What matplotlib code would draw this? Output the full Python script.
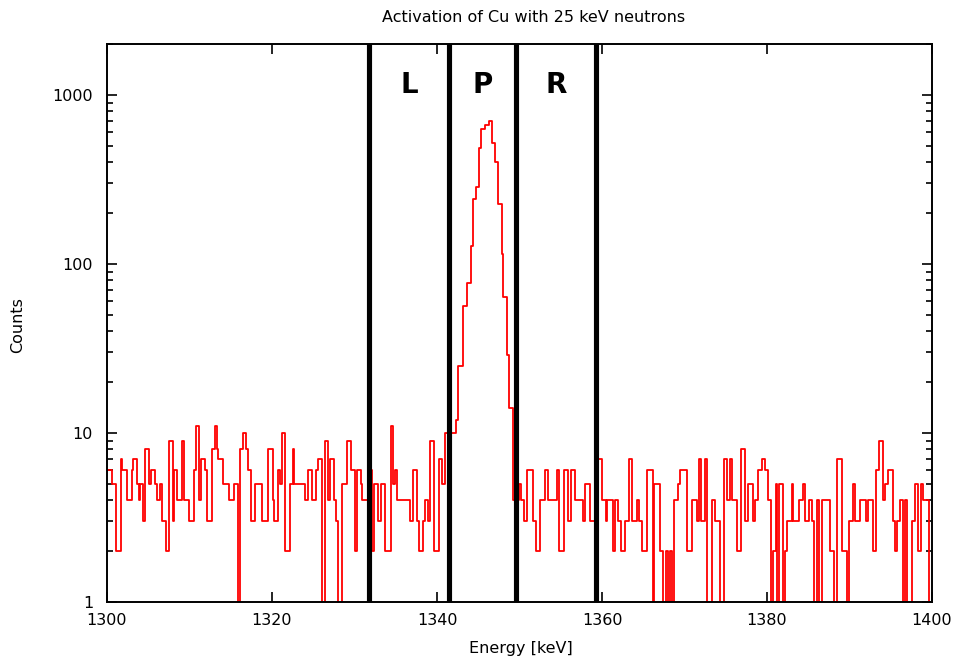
import numpy as np
import matplotlib
matplotlib.use('Agg')
import matplotlib.pyplot as plt
from matplotlib.ticker import LogLocator, NullFormatter, FixedLocator

# ----------------------------- donnees lues sur le spectre -----------------------------
# debut de chaque pas (keV) et nombre de coups correspondant
bin_lo_kev = [
    1300.0, 1300.57, 1301.05, 1301.66, 1301.86, 1302.38, 1302.99, 1303.19, 1303.68, 1303.88,
    1304.04, 1304.40, 1304.61, 1305.13, 1305.29, 1305.82, 1306.02, 1306.42, 1306.63, 1307.15,
    1307.52, 1307.96, 1308.12, 1308.53, 1309.05, 1309.33, 1309.98, 1310.59, 1310.75, 1311.19,
    1311.35, 1311.88, 1312.08, 1312.69, 1313.13, 1313.29, 1313.49, 1314.10, 1314.83, 1315.39,
    1315.84,
    1316.12, 1316.44, 1316.85, 1317.13, 1317.41, 1317.94, 1318.83, 1319.56, 1320.08, 1320.24,
    1320.77, 1320.97, 1321.17, 1321.58, 1322.18, 1322.51, 1322.71, 1324.0, 1324.40, 1324.81,
    1325.33, 1325.62, 1326.02, 1326.42, 1326.83, 1327.03, 1327.52, 1327.76, 1328.04, 1328.44,
    1329.05, 1329.54, 1330.06, 1330.26, 1330.75, 1330.95,
    1331.88, 1332.12, 1332.36, 1332.89, 1333.17, 1333.70, 1334.38, 1334.63, 1334.91, 1335.19,
    1336.73, 1337.13, 1337.54, 1337.86, 1338.26, 1338.55, 1338.95, 1339.15, 1339.64, 1340.28,
    1340.57, 1340.97,
    1342.30, 1342.59, 1343.11, 1343.68, 1344.08, 1344.40, 1344.69, 1345.13, 1345.29, 1345.82,
    1346.34, 1346.63, 1347.03, 1347.43, 1347.84, 1348.04, 1348.44, 1348.77,
    1349.17, 1349.98, 1350.14, 1350.55, 1350.87, 1351.68, 1352.0, 1352.48, 1353.09, 1353.49,
    1354.51, 1354.83, 1355.39, 1355.92, 1356.2, 1356.73, 1357.74, 1357.94, 1358.55, 1359.56,
    1359.96, 1360.48, 1360.65, 1361.29, 1361.58, 1361.98, 1362.26, 1362.79, 1363.31, 1363.6,
    1364.2, 1364.53, 1364.81, 1365.41, 1366.14, 1366.30, 1367.03, 1367.43, 1367.76, 1367.96,
    1368.24, 1368.44, 1368.77, 1369.25, 1369.45, 1370.26, 1370.87, 1371.47, 1371.72, 1371.96,
    1372.48, 1372.77, 1373.29, 1373.70, 1374.30, 1374.83, 1375.11, 1375.52, 1375.76, 1376.40,
    1376.81, 1377.33, 1377.74, 1378.26, 1378.55, 1378.95, 1379.35, 1379.76,
    1380.16, 1380.44, 1380.77, 1381.09, 1381.25, 1381.41, 1381.90, 1382.18, 1382.38, 1382.99,
    1383.19, 1383.92, 1384.32, 1384.61, 1385.13, 1385.41, 1385.70, 1386.02, 1386.34, 1386.63,
    1387.64, 1388.12, 1388.53, 1389.05, 1389.74, 1389.98, 1390.46, 1390.67, 1391.27, 1392.0,
    1392.28, 1392.89, 1393.21, 1393.62, 1394.02, 1394.30, 1394.71, 1395.23, 1395.52, 1395.80,
    1396.12, 1396.44, 1396.73, 1396.93, 1397.54, 1397.94, 1398.34, 1398.63, 1398.95, 1399.68,
]
counts = [
    6, 5, 2, 7, 6, 4, 6, 7, 5, 4,
    5, 3, 8, 5, 6, 5, 4, 5, 3, 2,
    9, 3, 6, 4, 9, 4, 3, 6, 11, 4,
    7, 6, 3, 8, 11, 8, 7, 5, 4, 5,
    0,
    8, 10, 8, 6, 3, 5, 3, 8, 4, 3,
    6, 5, 10, 2, 5, 8, 5, 4, 6, 4,
    6, 7, 0, 9, 4, 7, 4, 3, 0, 5,
    9, 6, 2, 6, 5, 4,
    6, 2, 5, 3, 5, 2, 11, 5, 6, 4,
    3, 6, 3, 2, 3, 4, 3, 9, 2, 7,
    5, 10,
    12, 25, 56, 77, 128, 243, 285, 486, 629, 664,
    702, 520, 401, 226, 115, 64, 29, 14,
    4, 5, 4, 3, 6, 3, 2, 4, 6, 4,
    6, 2, 6, 3, 6, 4, 3, 5, 3, 7,
    4, 3, 4, 2, 4, 3, 2, 3, 7, 3,
    4, 3, 2, 6, 0, 5, 2, 0, 2, 0,
    2, 0, 4, 5, 6, 2, 4, 3, 7, 3,
    7, 0, 4, 3, 0, 7, 4, 7, 4, 2,
    8, 3, 5, 3, 4, 6, 7, 6,
    4, 0, 2, 5, 0, 5, 0, 2, 3, 5,
    3, 4, 5, 3, 4, 3, 0, 4, 0, 4,
    2, 0, 7, 2, 0, 3, 5, 3, 4, 3,
    4, 2, 6, 9, 4, 5, 6, 3, 2, 3,
    4, 0, 4, 0, 3, 5, 2, 5, 4, 0,
]
e_max = 1400.0

# limites des fenetres L / P / R (keV)
region_bounds = [1331.7, 1341.5, 1349.6, 1359.3]
region_labels = ['L', 'P', 'R']

x_ticks = [1300, 1320, 1340, 1360, 1380, 1400]
y_ticks = [1, 10, 100, 1000]

# -------------------------------------- figure --------------------------------------
fig = plt.figure(figsize=(9.57, 6.59), dpi=100)
ax = fig.add_axes([0.1118, 0.0865, 0.8621, 0.8467])

x = list(bin_lo_kev) + [e_max]
y = list(counts) + [counts[-1]]
ax.set_yscale('log', nonpositive='clip')
ax.step(x, y, where='post', color='red', lw=1.3)

for b in region_bounds:
    ax.axvline(b, color='black', lw=3.7)

for i, lab in enumerate(region_labels):
    xm = 0.5 * (region_bounds[i] + region_bounds[i + 1])
    ax.text(xm, 0.927, lab, transform=ax.get_xaxis_transform(),
            ha='center', va='center', fontsize=20, fontweight='bold',
            family='DejaVu Sans')

ax.set_xlim(1300, 1400)
ax.set_ylim(1, 2000)

ax.xaxis.set_major_locator(FixedLocator(x_ticks))
ax.yaxis.set_major_locator(FixedLocator(y_ticks))
ax.yaxis.set_minor_locator(LogLocator(base=10, subs=np.arange(2, 10)))
ax.yaxis.set_minor_formatter(NullFormatter())
ax.set_yticklabels([str(t) for t in y_ticks])

ax.tick_params(which='both', direction='in', top=True, right=True, labelsize=11.5, width=1.2)
ax.tick_params(which='major', length=7)
ax.tick_params(axis='x', pad=8)
ax.tick_params(axis='y', pad=10)
ax.tick_params(which='minor', length=4)
for s in ax.spines.values():
    s.set_linewidth(1.4)

fig.text(521 / 957, 1 - 648 / 659, 'Energy [keV]', fontsize=11.5, ha='center', va='center')
fig.text(18 / 957, 1 - 325 / 659, 'Counts', fontsize=11.5, rotation=90, ha='center', va='center')
fig.text(534 / 957, 1 - 17 / 659, 'Activation of Cu with 25 keV neutrons', fontsize=11.5,
         ha='center', va='center')

plt.savefig('out.png', dpi=100)
